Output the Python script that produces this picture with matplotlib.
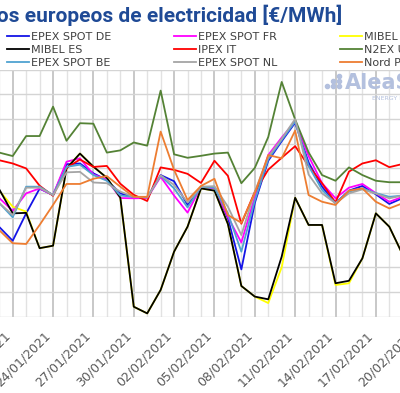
import numpy as np
import pandas as pd
import matplotlib
matplotlib.use('Agg')
from matplotlib import pyplot as plt
import matplotlib.dates as mdates
from matplotlib.lines import Line2D

#%% Datos (20/01/2021 - 19/02/2021)

fechas = pd.date_range('2021-01-20', '2021-02-19', freq='D')

epex_de = [36.3, 30.7, 41.8, 51.8, 49.2, 61.7, 62.0, 58.0, 55.3, 49.9, 48.3, 48.2, 57.3, 54.8, 45.2, 52.0,
           52.3, 39.8, 19.1, 46.0, 63.1, 71.0, 78.5, 62.4, 52.6, 45.9, 51.0, 52.9, 49.5, 45.6, 48.0]
epex_fr = [48.0, 42.8, 49.9, 51.9, 49.2, 62.7, 64.1, 57.5, 55.5, 48.0, 47.9, 48.0, 56.6, 49.0, 42.1, 52.6,
           52.0, 40.4, 30.0, 48.5, 65.4, 72.5, 79.0, 65.0, 54.0, 47.9, 52.2, 53.7, 50.0, 46.5, 48.5]
mibel_pt = [51.0, 44.5, 42.5, 27.7, 28.7, 60.0, 66.0, 60.7, 56.2, 48.2, 4.0, 1.3, 10.8, 26.3, 36.4, 51.9,
            51.0, 37.5, 12.4, 8.1, 5.5, 20.0, 48.1, 37.1, 37.1, 12.8, 13.5, 23.6, 41.8, 36.4, 25.0]
mibel_es = [51.5, 41.8, 42.0, 27.7, 28.7, 60.0, 66.0, 60.7, 56.2, 48.2, 4.0, 1.3, 10.8, 26.3, 36.4, 51.9,
            51.0, 37.5, 12.4, 8.1, 7.0, 24.3, 48.1, 37.1, 37.1, 13.5, 14.5, 23.6, 41.8, 36.4, 25.0]
ipex_it = [63.3, 62.0, 60.0, 53.0, 48.9, 60.2, 63.6, 60.6, 61.0, 53.8, 49.3, 46.8, 60.4, 59.4, 57.8, 54.1,
           63.1, 57.0, 37.6, 50.5, 59.5, 64.3, 69.0, 61.0, 54.0, 46.2, 58.7, 62.0, 63.3, 60.5, 61.8]
n2ex_uk = [66.4, 65.0, 73.1, 73.1, 85.0, 71.2, 78.3, 78.1, 66.4, 67.3, 70.5, 69.2, 91.5, 65.7, 64.3, 65.1,
           66.0, 66.4, 54.0, 60.2, 72.7, 95.0, 79.8, 66.5, 57.3, 55.0, 60.4, 57.3, 55.0, 54.4, 54.4]
epex_be = [46.0, 40.2, 52.6, 52.6, 49.2, 60.6, 61.5, 57.3, 55.0, 49.0, 48.5, 48.3, 57.0, 51.9, 44.2, 52.5,
           52.2, 41.8, 26.3, 47.0, 63.8, 71.5, 79.0, 61.0, 51.3, 45.9, 50.6, 51.9, 50.0, 48.5, 49.0]
epex_nl = [46.0, 41.1, 52.2, 52.2, 49.2, 58.4, 58.6, 54.3, 54.0, 50.6, 48.5, 48.2, 57.2, 53.3, 46.2, 52.6,
           52.8, 44.5, 33.0, 50.5, 64.7, 72.0, 80.0, 57.5, 49.9, 45.9, 49.9, 51.5, 49.8, 47.9, 49.0]
nord_pool = [35.0, 29.7, 29.4, 37.1, 45.2, 53.7, 53.7, 55.8, 56.9, 52.6, 48.5, 48.5, 74.9, 59.4, 47.2, 52.9,
             55.8, 41.1, 38.0, 50.0, 65.4, 64.1, 75.3, 49.2, 46.5, 45.2, 51.0, 51.9, 46.5, 43.8, 45.9]

series = [('EPEX SPOT DE', epex_de, '#1414e6'),
          ('EPEX SPOT FR', epex_fr, '#ff00ff'),
          ('MIBEL PT', mibel_pt, '#ffff00'),
          ('MIBEL ES', mibel_es, '#000000'),
          ('IPEX IT', ipex_it, '#ff0000'),
          ('N2EX UK', n2ex_uk, '#548235'),
          ('EPEX SPOT BE', epex_be, '#4fa3d1'),
          ('EPEX SPOT NL', epex_nl, '#a5a5a5'),
          ('Nord Pool', nord_pool, '#ed7d31')]

ticks = pd.date_range('2021-01-21', '2021-02-20', freq='3D')

#%% Figura

fig = plt.figure(figsize=(4.0, 3.93), dpi=100)
# el grafico sigue mas alla de los bordes (recorte)
ax = fig.add_axes([-0.05, 0.1944, 1.1, 0.6285])

lineas = {}
for nombre, vals, col in series:
    l, = ax.plot(fechas, vals, color=col, lw=1.3, label=nombre)
    lineas[nombre] = l

ax.set_yticks(np.arange(0, 101, 10))
ax.set_yticklabels([])
ax.tick_params(axis='y', length=0)

ax.set_xticks(mdates.date2num(ticks))
ax.set_xticks(mdates.date2num(pd.date_range('2021-01-15', '2021-02-25', freq='D')), minor=True)
ax.xaxis.set_major_formatter(mdates.DateFormatter('%d/%m/%Y'))
ax.tick_params(axis='x', which='both', length=0, pad=9, labelsize=9, labelcolor='#595959')
plt.setp(ax.get_xticklabels(), rotation=45, ha='right')

# limites despues de los ticks
x0 = mdates.date2num(pd.Timestamp('2021-01-21'))
ax.set_xlim(x0 - (12.7 + 20)/13.45, x0 + (420 - 12.7)/13.45)
ax.set_ylim(0, 100)

ax.grid(axis='y', color='#d4d4d4', lw=1)
ax.grid(axis='x', which='major', color='#c4c4c4', lw=1.3)
ax.grid(axis='x', which='minor', color='#e2e2e2', lw=1)
ax.set_axisbelow(True)
for s in ax.spines.values():
    s.set_visible(False)

# leyenda (3 columnas)
orden = ['EPEX SPOT DE', 'MIBEL ES', 'EPEX SPOT BE',
         'EPEX SPOT FR', 'IPEX IT', 'EPEX SPOT NL',
         'MIBEL PT', 'N2EX UK', 'Nord Pool']
fig.legend([lineas[n] for n in orden], orden, ncol=3, loc='upper left',
           bbox_to_anchor=(0.0, 0.75, 1.06, 0.185), mode='expand', frameon=False,
           fontsize=8, handlelength=2.0, handletextpad=0.2, labelspacing=0.25,
           borderaxespad=0, borderpad=0.6, labelcolor='#404040')

fig.text(342/400, 1 - 15/393, 'Precios europeos de electricidad [€/MWh]', ha='right', va='center',
         fontsize=15, fontweight='bold', color='#1f4a96', family='Roboto')

# marca de agua
wm = '#b3c0de'
fig.add_artist(Line2D(np.array([327, 333, 333, 339, 339, 339])/400,
                      1 - np.array([86, 81, 86, 76, 81, 86])/393,
                      transform=fig.transFigure, ls='', marker='o', ms=3, color=wm))
fig.text(345/400, 1 - 83/393, 'AleaSoft', ha='left', va='center', fontsize=15,
         fontweight='bold', color=wm)
fig.text(372/400, 1 - 98/393, 'ENERGY FORECASTING', ha='left', va='center', fontsize=4.5, color=wm)

plt.savefig('out.png', dpi=100)
